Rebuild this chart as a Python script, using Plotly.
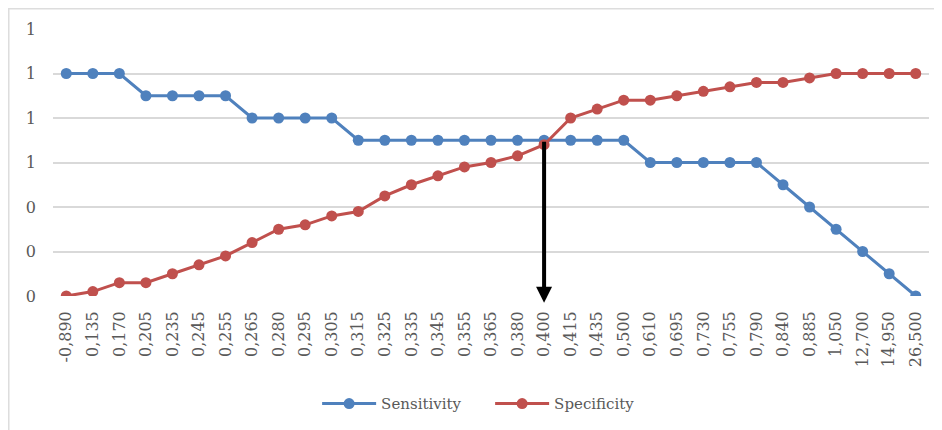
import plotly.graph_objects as go

categories = ["-0,890", "0,135", "0,170", "0,205", "0,235", "0,245", "0,255", "0,265",
              "0,280", "0,295", "0,305", "0,315", "0,325", "0,335", "0,345", "0,355",
              "0,365", "0,380", "0,400", "0,415", "0,435", "0,500", "0,610", "0,695",
              "0,730", "0,755", "0,790", "0,840", "0,885", "1,050", "12,700", "14,950",
              "26,500"]

sensitivity = [1.0, 1.0, 1.0, 0.9, 0.9, 0.9, 0.9, 0.8, 0.8, 0.8, 0.8, 0.7, 0.7, 0.7,
               0.7, 0.7, 0.7, 0.7, 0.7, 0.7, 0.7, 0.7, 0.6, 0.6, 0.6, 0.6, 0.6, 0.5,
               0.4, 0.3, 0.2, 0.1, 0.0]

specificity = [0.0, 0.02, 0.06, 0.06, 0.10, 0.14, 0.18, 0.24, 0.30, 0.32, 0.36, 0.38,
               0.45, 0.50, 0.54, 0.58, 0.60, 0.63, 0.68, 0.80, 0.84, 0.88, 0.88, 0.90,
               0.92, 0.94, 0.96, 0.96, 0.98, 1.0, 1.0, 1.0, 1.0]

cutoff_index = categories.index("0,400")
cutoff_top = 0.7

BLUE = "#4F81BD"
RED = "#C0504D"
TEXT = "#595959"
FONT = "DejaVu Serif"

fig = go.Figure()
fig.add_trace(go.Scatter(x=categories, y=sensitivity, mode="lines+markers", name="Sensitivity",
                         line=dict(color=BLUE, width=3), marker=dict(color=BLUE, size=11)))
fig.add_trace(go.Scatter(x=categories, y=specificity, mode="lines+markers", name="Specificity",
                         line=dict(color=RED, width=3), marker=dict(color=RED, size=11)))

fig.add_annotation(x=cutoff_index, y=-0.03, ax=cutoff_index, ay=cutoff_top,
                   xref="x", yref="y", axref="x", ayref="y", text="", showarrow=True,
                   arrowhead=2, arrowwidth=4, arrowsize=0.8, arrowcolor="black", standoff=0)

fig.add_shape(type="rect", xref="paper", yref="paper", x0=-0.0505, x1=1.03, y0=-0.55, y1=1.0755,
              line=dict(color="#DDDDDD", width=1.5), fillcolor="rgba(0,0,0,0)", layer="below")

fig.update_layout(
    width=934, height=422,
    margin=dict(l=45, r=13, t=21, b=134, autoexpand=False),
    paper_bgcolor="white", plot_bgcolor="white",
    font=dict(family=FONT, color=TEXT, size=16),
    showlegend=True,
    legend=dict(orientation="h", x=0.499, xanchor="center", y=-0.404, yanchor="middle",
                font=dict(size=15, color=TEXT), itemwidth=54, entrywidth=104),
)
fig.update_xaxes(type="category", tickangle=-90, showgrid=False, showline=False, ticks="",
                 tickfont=dict(size=16, color=TEXT), ticklabelstandoff=11, automargin=False,
                 range=[-0.5, len(categories) - 0.5])
fig.update_yaxes(range=[0, 1.2], tick0=0, dtick=0.2, tickformat=".0f", showgrid=True,
                 gridcolor="#D9D9D9", gridwidth=1.5, zeroline=False, showline=False, ticks="",
                 tickfont=dict(size=16, color=TEXT), ticklabelstandoff=16, automargin=False)

fig.write_html("out.html")
